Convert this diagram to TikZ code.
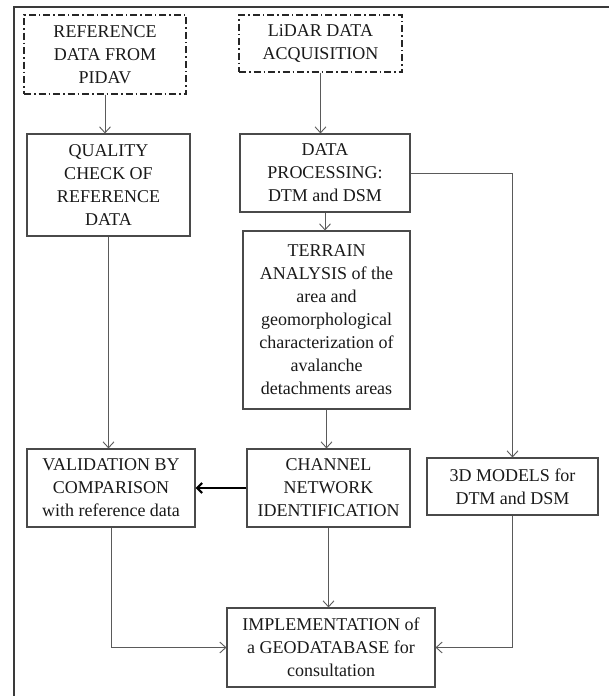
\documentclass[tikz,border=0pt]{standalone}
\usepackage{fontspec}
\setmainfont{Liberation Serif}
\usetikzlibrary{arrows.meta}
\definecolor{boxc}{HTML}{4A4A4A}
\definecolor{linec}{HTML}{5A5A5A}
\definecolor{framec}{HTML}{3A3A3A}
\begin{document}
\begin{tikzpicture}[x=1pt,y=-1pt,
  box/.style={draw=boxc,line width=1.1pt,inner sep=0pt,align=center,
    font=\fontsize{18}{23}\selectfont,text=black!90},
  dashbox/.style={box,draw=black!85,line width=1.4pt,dash pattern=on 7pt off 3pt on 1.5pt off 3pt},
  conn/.style={draw=linec,line width=0.9pt,-{Straight Barb[length=6pt,width=11pt,line width=0.9pt]}},
  thick conn/.style={draw=black,line width=2.6pt,-{Straight Barb[length=5pt,width=10pt,line width=2.2pt]}}
]
\useasboundingbox (0,0) rectangle (608,696);
\draw[framec,line width=1.6pt] (14,696) -- (14,7) -- (609,7);

\node[dashbox,minimum width=162pt,minimum height=79pt] (ref) at (105,54.5) {REFERENCE\\DATA FROM\\PIDAV};
\node[dashbox,minimum width=163pt,minimum height=57pt] (lidar) at (320.5,43.5) {LiDAR DATA\\ACQUISITION};
\node[box,minimum width=163pt,minimum height=102pt] (quality) at (108.5,185) {QUALITY\\CHECK OF\\REFERENCE\\DATA};
\node[box,minimum width=170pt,minimum height=78pt] (dp) at (325,173) {DATA\\PROCESSING:\\DTM and DSM};
\node[box,minimum width=167pt,minimum height=178pt] (terrain) at (326.5,320) {TERRAIN\\ANALYSIS of the\\area and\\geomorphological\\characterization of\\avalanche\\detachments areas};
\node[box,minimum width=168pt,minimum height=78pt] (valid) at (111,488) {VALIDATION BY\\COMPARISON\\with reference data};
\node[box,minimum width=163pt,minimum height=78pt] (channel) at (328.5,488) {CHANNEL\\NETWORK\\IDENTIFICATION};
\node[box,minimum width=171pt,minimum height=57pt] (models) at (512.5,486.5) {3D MODELS for\\DTM and DSM};
\node[box,minimum width=208pt,minimum height=79pt] (impl) at (331,647.5) {IMPLEMENTATION of\\a GEODATABASE for\\consultation};

\draw[conn] (ref.south) -- (ref.south |- quality.north);
\draw[conn] (lidar.south) -- (lidar.south |- dp.north);
\draw[conn] (dp.south) -- (dp.south |- terrain.north);
\draw[conn] (terrain.south) -- (terrain.south |- channel.north);
\draw[conn] (quality.south) -- (quality.south |- valid.north);
\draw[conn] (channel.south) -- (channel.south |- impl.north);
\draw[conn] (dp.east) -| (models.north);
\draw[conn] (valid.south) |- (impl.west);
\draw[conn] (models.south) |- (impl.east);
\draw[thick conn] (channel.west) -- (valid.east);
\end{tikzpicture}
\end{document}
